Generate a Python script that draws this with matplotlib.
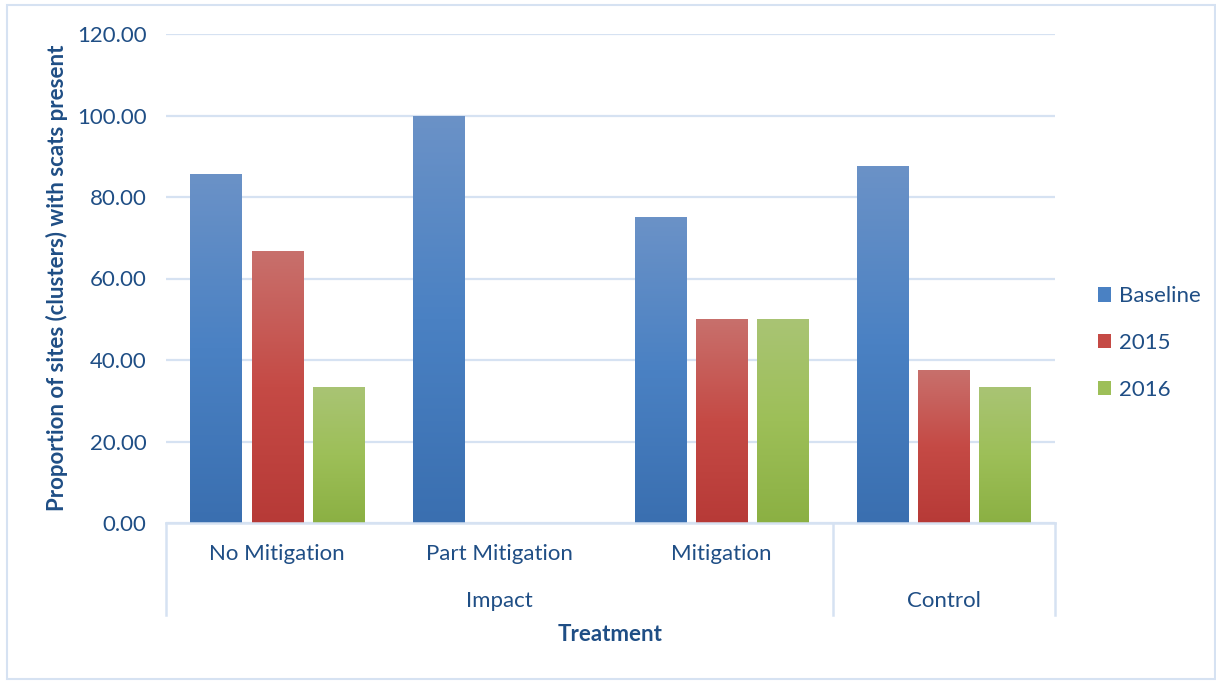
import matplotlib
matplotlib.use('Agg')
import matplotlib.pyplot as plt
import numpy as np
from matplotlib.colors import LinearSegmentedColormap
from matplotlib.patches import Patch, Rectangle
from matplotlib.lines import Line2D

# Data
subcategories = ['No Mitigation', 'Part Mitigation', 'Mitigation', 'Control']
series_names = ['Baseline', '2015', '2016']
baseline = [85.71, 100.0, 75.0, 87.5]
y2015 = [66.67, 0.0, 50.0, 37.5]
y2016 = [33.33, 0.0, 50.0, 33.33]
groups = ['Impact', 'Control']
group_spans = [(0, 2), (3, 3)]  # first/last subcategory index per group

TEXT = '#1f4e85'
GRID = '#d6e2f2'
FS = 16

# bottom / middle / top gradient stops (Excel style)
gradients = [
    ['#3a6fb0', '#4a81c3', '#6b92c7'],
    ['#b73a37', '#c54a45', '#c8706c'],
    ['#8bb043', '#9dbf58', '#a9c474'],
]

plt.rcParams['font.family'] = ['Lato', 'DejaVu Sans']

fig = plt.figure(figsize=(12.16, 6.81), dpi=100)
ax = fig.add_axes([166 / 1216, 1 - 523 / 681, (1055 - 166) / 1216, (523 - 34) / 681])

x = np.arange(len(subcategories))
width = 0.23
step = 0.275
all_series = [baseline, y2015, y2016]

for i, (vals, stops) in enumerate(zip(all_series, gradients)):
    cmap = LinearSegmentedColormap.from_list('g%d' % i, stops)
    bars = ax.bar(x + (i - 1) * step, vals, width, color=stops[1], zorder=2, linewidth=0)
    for b in bars:
        h = b.get_height()
        if h <= 0:
            continue
        x0 = b.get_x()
        grad = np.linspace(0, 1, 256).reshape(-1, 1)
        im = ax.imshow(grad, cmap=cmap, origin='lower', aspect='auto',
                       extent=(x0, x0 + b.get_width(), 0, h), zorder=3)
        im.set_clip_path(b)

ax.set_xlim(-0.5, len(subcategories) - 0.5)
ax.set_ylim(0, 120)
ax.set_yticks(np.arange(0, 121, 20))
ax.set_yticklabels(['%.2f' % v for v in np.arange(0, 121, 20)])
ax.yaxis.grid(True, color=GRID, linewidth=1.6, zorder=0)
ax.set_axisbelow(True)
for s in ax.spines.values():
    s.set_visible(False)
ax.axhline(0, color=GRID, linewidth=1.8, zorder=4, clip_on=False)
ax.tick_params(axis='y', length=0, pad=14, labelsize=FS, labelcolor=TEXT)
ax.set_xticks([])

# multi-level category axis
tr = ax.get_xaxis_transform()
for xi, name in zip(x, subcategories):
    if name != 'Control':
        ax.text(xi, -0.063, name, transform=tr, ha='center', va='center',
                fontsize=FS, color=TEXT)
for g, (a, b) in zip(groups, group_spans):
    ax.text((a + b) / 2, -0.16, g, transform=tr, ha='center', va='center',
            fontsize=FS, color=TEXT)
for xb in [-0.5, 2.5, 3.5]:
    ax.add_line(Line2D([xb, xb], [0, -0.188], transform=tr, color=GRID,
                       linewidth=1.8, clip_on=False))

ax.text(0.5, -0.227, 'Treatment', transform=ax.transAxes, ha='center', va='center',
        fontsize=FS, fontweight='bold', color=TEXT)
fig.text(57 / 1216, 1 - 278 / 681, 'Proportion of sites (clusters) with scats present',
         rotation=90, ha='center', va='center', fontsize=FS, fontweight='bold',
         color=TEXT)

handles = [Patch(facecolor=g[1], edgecolor='none') for g in gradients]
leg = fig.legend(handles, series_names, loc='center left',
                 bbox_to_anchor=(1087 / 1216, 1 - 343 / 681), frameon=False,
                 fontsize=FS, handlelength=0.6, handleheight=0.6, handletextpad=0.35,
                 labelspacing=1.2, borderpad=0)
for t in leg.get_texts():
    t.set_color(TEXT)

# chart border
fig.add_artist(Rectangle((7 / 1216, 2 / 681), 1 - 8 / 1216, 1 - 7 / 681,
                         transform=fig.transFigure, fill=False,
                         edgecolor=GRID, linewidth=1.5))

fig.savefig('out.png', dpi=100)
